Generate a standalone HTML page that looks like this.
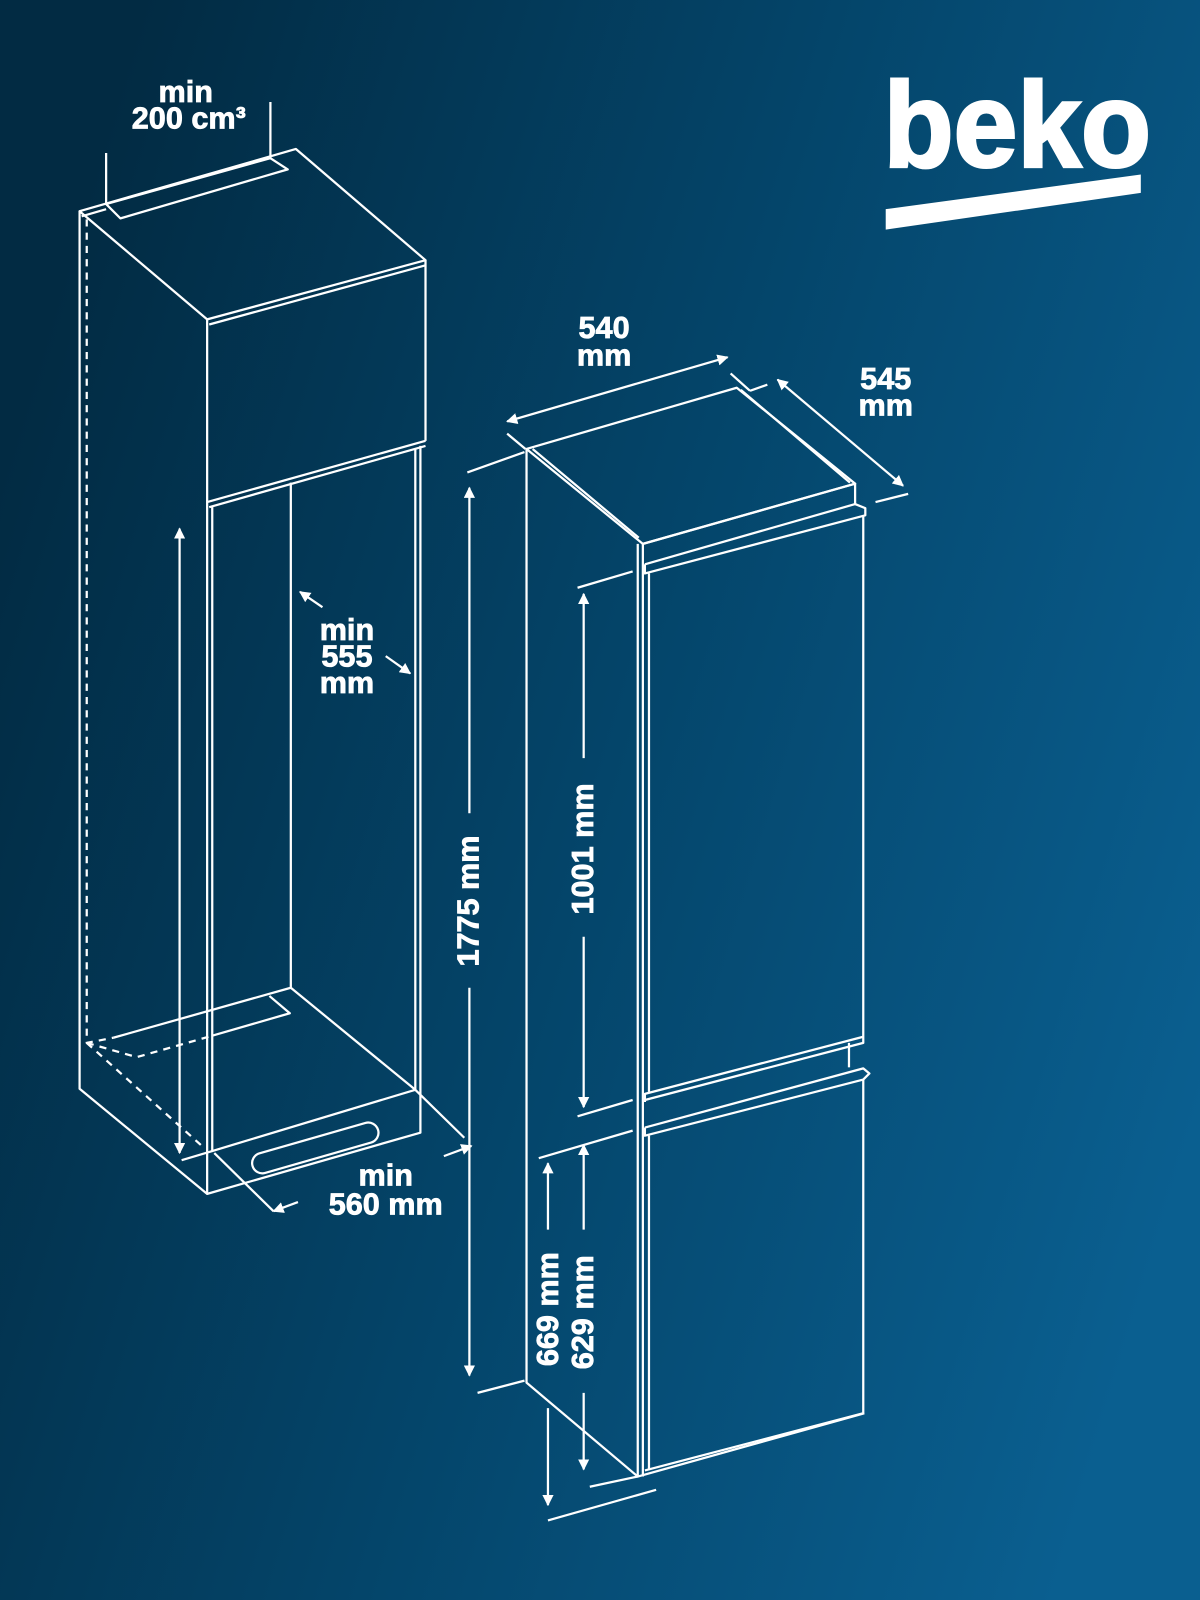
<!DOCTYPE html>
<html><head><meta charset="utf-8"><style>
html,body{margin:0;padding:0;width:1200px;height:1600px;overflow:hidden}
svg{display:block}
text{font-family:"Liberation Sans",sans-serif;font-weight:bold;fill:#fff}
</style></head><body>
<svg width="1200" height="1600" viewBox="0 0 1176 1568" preserveAspectRatio="none" xmlns="http://www.w3.org/2000/svg">
<defs>
<linearGradient id="bg" x1="0" y1="0.3" x2="1" y2="0.7">
<stop offset="0" stop-color="#022b43"/><stop offset="0.5" stop-color="#04456a"/><stop offset="1" stop-color="#0a5f90"/>
</linearGradient>
<marker id="ah" viewBox="0 0 10 10" refX="9" refY="5" markerWidth="5" markerHeight="5" orient="auto-start-reverse"><path d="M0,0 L10,5 L0,10 z" fill="#fff"/></marker>
</defs>
<rect width="1176" height="1568" fill="url(#bg)"/>
<g stroke="#fff" stroke-width="2.2" fill="none" stroke-linejoin="round">
<path d="M78,207 L290,146 L417,255 L203,313 Z"/>
<path d="M80,212 L104,205 M205,318 L417,260"/>
<path d="M203,313 V1170 M417,255 V432 M203,492 L417,432 M205,497 L417,437"/>
<path d="M78,207 V1067 L203,1170 L412,1110 V437 M407,440 V1068"/>
<path d="M208,497 V1128 L407,1068 L285,968 V473"/>
<path d="M285,968 L111,1017 M264,976 L284,993 L208,1015"/>
<path d="M85,215 V1022 L111,1017 M85,1022 L134,1036 L208,1015 M85,1022 L199,1124" stroke-dasharray="7,6"/>
<path d="M178,1137 L208,1128 M407,1068 L455,1115"/>
<rect x="245" y="1115" width="128" height="20" rx="10" transform="rotate(-16 309 1125)"/>
<path d="M104,150 V200 L118,214 L282,166 L265,155 L104,200 M265,100 V155"/>
<path d="M176,518 V1130" marker-start="url(#ah)" marker-end="url(#ah)"/>
<path d="M316,595 L294,580" marker-end="url(#ah)"/>
<path d="M378,643 L402,660" marker-end="url(#ah)"/>
<path d="M210,1130 L268,1187" />
<path d="M292,1178 L268,1187" marker-end="url(#ah)"/>
<path d="M435,1133 L462,1123" marker-end="url(#ah)"/>
<path d="M516,440 L722,380 L838,474 L630,533 Z"/>
<path d="M522,440 L626,527 M726,382 L833,473"/>
<path d="M630,533 L838,474 V494 L632,553 M625,533 V1447 M630,533 V1447"/>
<path d="M516,440 V1355 L625,1447 L847,1385"/>
<path d="M838,494 L848,498 V505 L632,562 V553 M636,562 V1070"/>
<path d="M846,505 V1022 L632,1078 M846,1016 L632,1072 V1080"/>
<path d="M832,1022 V1046"/>
<path d="M632,1105 L846,1047 L852,1052 L846,1058 L632,1113 V1105 M636,1113 V1440"/>
<path d="M846,1058 V1385 L632,1441"/>
<path d="M497,413 L713,350" marker-start="url(#ah)" marker-end="url(#ah)"/>
<path d="M497,425 L515,440 M716,366 L735,383 M735,383 L752,377"/>
<path d="M762,372 L885,476" marker-start="url(#ah)" marker-end="url(#ah)"/>
<path d="M858,492 L890,484"/>
<path d="M458,463 L514,443 M468,1365 L514,1353"/>
<path d="M460,797 V478" marker-end="url(#ah)"/><path d="M460,968 V1348" marker-end="url(#ah)"/>
<path d="M566,576 L620,560 M566,1094 L620,1078"/>
<path d="M572,743 V582" marker-end="url(#ah)"/><path d="M572,918 V1085" marker-end="url(#ah)"/>
<path d="M528,1135 L620,1108"/>
<path d="M572,1205 V1122" marker-end="url(#ah)"/><path d="M572,1365 V1440" marker-end="url(#ah)"/>
<path d="M537,1205 V1140" marker-end="url(#ah)"/><path d="M537,1380 V1475" marker-end="url(#ah)"/>
<path d="M537,1490 L643,1460 M578,1457 L625,1447"/>
</g>
<g font-size="30" text-anchor="middle" stroke="#fff" stroke-width="0.8">
<text x="182" y="100">min</text>
<text x="185" y="126">200 cm³</text>
<text x="340" y="627">min</text>
<text x="340" y="653">555</text>
<text x="340" y="679">mm</text>
<text x="378" y="1162">min</text>
<text x="378" y="1190">560 mm</text>
<text x="592" y="331">540</text>
<text x="592" y="358">mm</text>
<text x="868" y="381">545</text>
<text x="868" y="407">mm</text>
<text transform="translate(469,883) rotate(-90)">1775 mm</text>
<text transform="translate(581,832) rotate(-90)">1001 mm</text>
<text transform="translate(547,1283) rotate(-90)">669 mm</text>
<text transform="translate(581,1286) rotate(-90)">629 mm</text>
</g>
<text x="866" y="163" font-size="118" stroke="#fff" stroke-width="3" textLength="262" lengthAdjust="spacingAndGlyphs">beko</text>
<polygon points="868,205 1118,171 1118,189 868,225" fill="#fff"/>
</svg>
</body></html>
